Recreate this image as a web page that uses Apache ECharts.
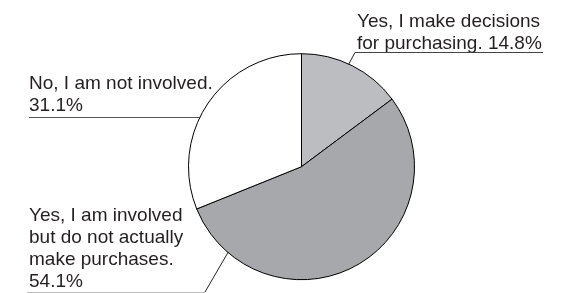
<!DOCTYPE html>
<html>
<head>
<meta charset="utf-8">
<script src="https://cdn.jsdelivr.net/npm/echarts@6/dist/echarts.min.js"></script>
<style>
  html, body { margin: 0; padding: 0; background: #fff; }
  #chart { width: 566px; height: 293px; }
</style>
</head>
<body>
<div id="chart"></div>
<script>
  const categories = [
    'Yes, I make decisions for purchasing.',
    'Yes, I am involved but do not actually make purchases.',
    'No, I am not involved.'
  ];
  const values = [14.8, 54.1, 31.1];
  const sliceColors = ['#bcbdc0', '#a7a8ab', '#ffffff'];

  const labelLines = [
    ['Yes, I make decisions', 'for purchasing. ' + values[0] + '%'],
    ['Yes, I am involved', 'but do not actually', 'make purchases.', values[1] + '%'],
    ['No, I am not involved.', values[2] + '%']
  ];

  const font = '19px "Liberation Sans", Arial, Helvetica, sans-serif';
  const textColor = '#231f20';

  function label(x, y, lines) {
    return {
      type: 'text',
      x, y,
      style: {
        text: lines.join('\n'),
        font,
        fill: textColor,
        lineHeight: 22,
        verticalAlign: 'top'
      }
    };
  }

  function seg(x1, y1, x2, y2, color) {
    return {
      type: 'line',
      shape: { x1, y1, x2, y2 },
      style: { stroke: color, lineWidth: 1 }
    };
  }

  const chart = echarts.init(document.getElementById('chart'), null, { renderer: 'canvas' });
  chart.setOption({
    backgroundColor: '#fff',
    animation: false,
    series: [{
      type: 'pie',
      center: [301.5, 166.7],
      radius: 113,
      startAngle: 90,
      clockwise: true,
      label: { show: false },
      labelLine: { show: false },
      emphasis: { disabled: true },
      itemStyle: { borderColor: '#000', borderWidth: 1 },
      data: categories.map((name, i) => ({
        name,
        value: values[i],
        itemStyle: { color: sliceColors[i] }
      }))
    }],
    graphic: [
      label(357, 10.8, labelLines[0]),
      label(29, 205.2, labelLines[1]),
      label(29, 73.2, labelLines[2]),
      seg(355, 52.5, 543, 52.5, '#444'),
      seg(355, 52.5, 324, 110, '#222'),
      seg(29, 117.5, 262, 117.5, '#555'),
      seg(27, 292.5, 205, 292.5, '#bbb'),
      seg(205, 292, 248, 218, '#222')
    ]
  });
</script>
</body>
</html>
